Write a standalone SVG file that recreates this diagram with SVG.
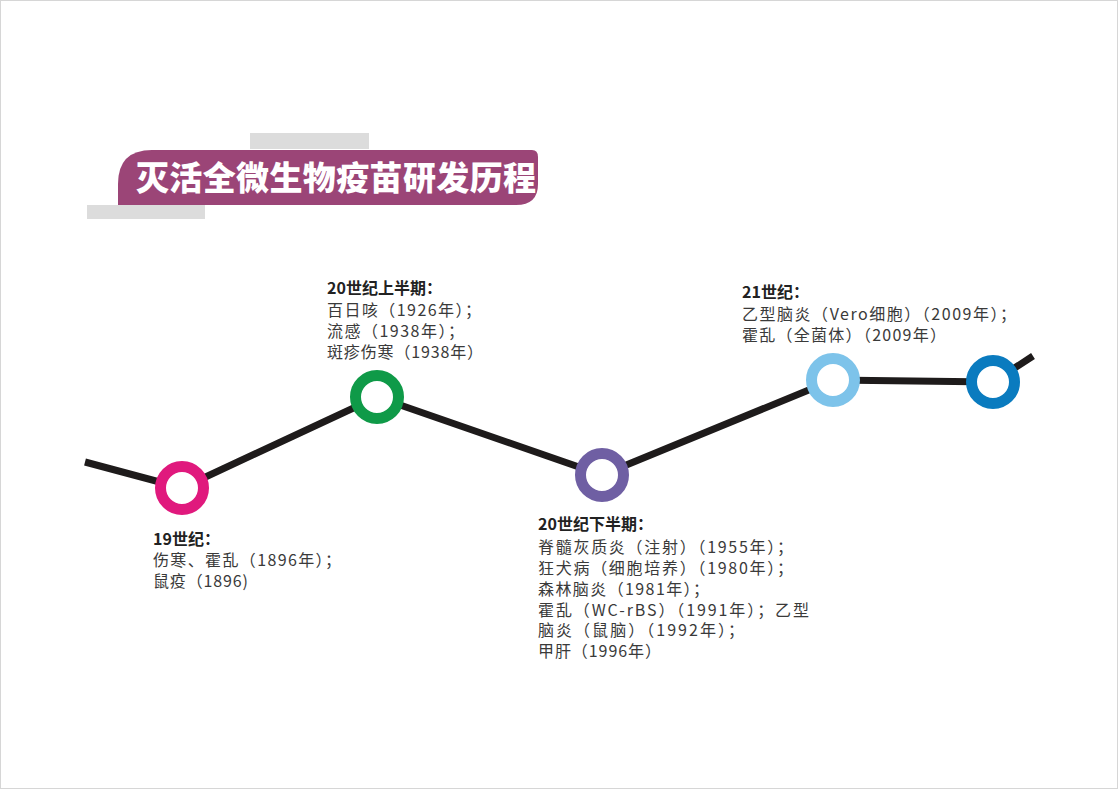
<svg xmlns="http://www.w3.org/2000/svg" width="1118" height="789" viewBox="0 0 1118 789">
  <style>
    .ring { fill: #ffffff; stroke-width: 11; }
    .hd { font-family: "Noto Sans CJK SC", "Noto Sans", sans-serif; font-size: 16px; font-weight: bold; fill: #222222; }
    .tx { font-family: "Noto Sans CJK SC", "Noto Sans", sans-serif; font-size: 16px; fill: #3a3a3a; }
    .title { font-family: "Noto Sans CJK SC", "Noto Sans", sans-serif; font-size: 33px; font-weight: 900; fill: #ffffff; }
  </style>
  <rect x="0.5" y="0.5" width="1117" height="788" fill="#ffffff" stroke="#d6d6d6" stroke-width="1"/>
  <g id="title">
    <rect x="250" y="133" width="119" height="16" fill="#dcdcdc"/>
    <rect x="87" y="205" width="118" height="14" fill="#dcdcdc"/>
    <path d="M118,205 L118,184 Q118,150 152,150 L532,150 Q538,150 538,157 L538,184 Q538,205 516,205 Z" fill="#9b4577"/>
    <text class="title" x="136" y="190" textLength="400">灭活全微生物疫苗研发历程</text>
  </g>
  <g id="connectors">
    <polyline points="85,462 182,488 377,397 602,475 833,380 993,382 1033,356" fill="none" stroke="#1e1b1b" stroke-width="7" stroke-linejoin="miter"/>
  </g>
  <g id="node-19c">
    <circle class="ring" cx="182" cy="488" r="21.5" stroke="#e0197d"/>
    <text class="hd" x="153" y="545">19世纪：</text>
    <text class="tx" x="153" y="566" textLength="188">伤寒、霍乱（1896年）；</text>
    <text class="tx" x="153" y="587" textLength="95">鼠疫（1896)</text>
  </g>
  <g id="node-20c-first">
    <circle class="ring" cx="377" cy="397" r="21.5" stroke="#0f9a48"/>
    <text class="hd" x="327" y="294">20世纪上半期：</text>
    <text class="tx" x="327" y="316" textLength="154">百日咳（1926年）；</text>
    <text class="tx" x="327" y="337" textLength="137">流感（1938年）；</text>
    <text class="tx" x="327" y="358" textLength="156">斑疹伤寒（1938年）</text>
  </g>
  <g id="node-20c-second">
    <circle class="ring" cx="602" cy="475" r="21.5" stroke="#6f5fa3"/>
    <text class="hd" x="538" y="530">20世纪下半期：</text>
    <text class="tx" x="538" y="553" textLength="255">脊髓灰质炎（注射）（1955年）；</text>
    <text class="tx" x="538" y="574" textLength="255">狂犬病（细胞培养）（1980年）；</text>
    <text class="tx" x="538" y="595" textLength="171">森林脑炎（1981年）；</text>
    <text class="tx" x="538" y="616" textLength="271">霍乱（WC-rBS）（1991年）；乙型</text>
    <text class="tx" x="538" y="636" textLength="206">脑炎（鼠脑）（1992年）；</text>
    <text class="tx" x="538" y="657" textLength="123">甲肝（1996年）</text>
  </g>
  <g id="node-21c">
    <circle class="ring" cx="833" cy="380" r="21.5" stroke="#7dc3ea"/>
    <text class="hd" x="742" y="298">21世纪：</text>
    <text class="tx" x="742" y="320" textLength="274">乙型脑炎（Vero细胞）（2009年）；</text>
    <text class="tx" x="742" y="341" textLength="204">霍乱（全菌体）（2009年）</text>
  </g>
  <g id="node-end">
    <circle class="ring" cx="993" cy="382" r="21.5" stroke="#0a7bbf"/>
  </g>
</svg>
